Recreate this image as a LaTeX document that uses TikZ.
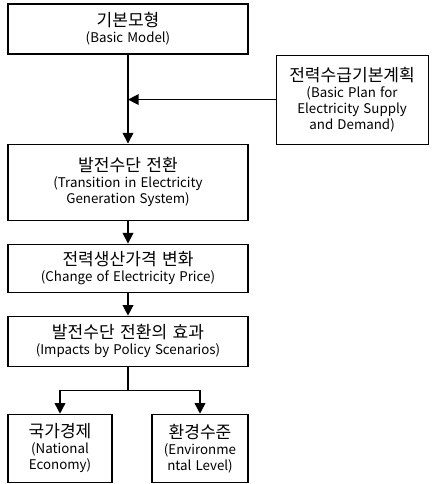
\documentclass[tikz,border=0pt]{standalone}
\usepackage{fontspec}
\setmainfont{Noto Sans CJK KR}[WordSpace=1.4]
\usetikzlibrary{positioning,arrows.meta}
\newcommand\kor{\fontsize{12.8}{15.5}\selectfont}
\newcommand\eng{\fontsize{10}{15.5}\selectfont}
\begin{document}
\begin{tikzpicture}[node distance=17.25pt,
  box/.style = {draw,line width=0.8pt,align=center,minimum width=180pt,inner sep=0pt},
  leaf/.style = {draw,line width=0.8pt,align=center,minimum height=51pt,inner sep=0pt},
  flow/.style = {line width=1.1pt,-{Triangle[width=8pt,length=8pt]}}]
\useasboundingbox (0,0) rectangle (324.75pt,-363pt);
\node[box,minimum height=37.5pt] (model) at (96pt,-21.75pt) {\kor 기본모형\\\eng (Basic Model)};
\node[box,minimum height=57pt] (trans) [below=66.75pt of model] {\kor 발전수단 전환\\\eng (Transition in Electricity\\\eng Generation System)};
\node[box,minimum height=36pt] (price) [below=of trans] {\kor 전력생산가격 변화\\\eng (Change of Electricity Price)};
\node[box,minimum height=37.5pt] (impact) [below=of price] {\kor 발전수단 전환의 효과\\\eng (Impacts by Policy Scenarios)};
\node[leaf,minimum width=78pt] (econ) [below=35.25pt of impact.south west,anchor=north west] {\kor 국가경제\\\eng (National\\\eng Economy)};
\node[leaf,minimum width=72pt] (env) [below=35.25pt of impact.south east,anchor=north east] {\kor 환경수준\\\eng (Environme\\\eng ntal Level)};
\node[draw,line width=0.8pt,align=center,minimum width=114pt,minimum height=66.75pt,inner sep=0pt,anchor=north west]
  (plan) at ([xshift=20.25pt]model.south east) {\kor 전력수급기본계획\\\eng (Basic Plan for\\\eng Electricity Supply\\\eng and Demand)};
\coordinate (split) at ([yshift=-18pt]impact.south);
\draw[flow] (model) -- (trans);
\draw[flow] (plan.west) -- (plan.west -| model.south);
\draw[flow] (trans) -- (price);
\draw[flow] (price) -- (impact);
\draw[line width=1.1pt] (impact) -- (split);
\draw[flow] (split) -| (econ);
\draw[flow] (split) -| (env);
\end{tikzpicture}
\end{document}
